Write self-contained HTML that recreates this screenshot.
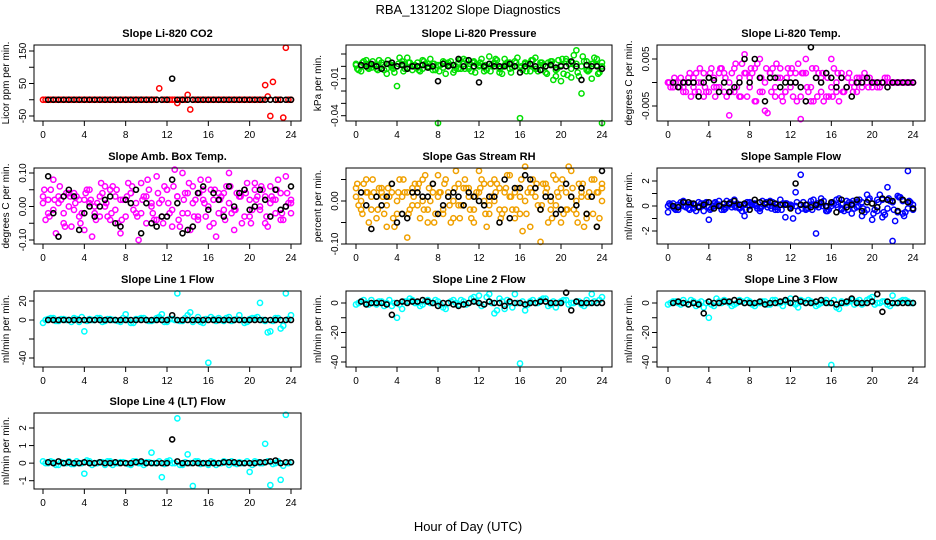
<!DOCTYPE html>
<html><head><meta charset="utf-8"><style>
body{margin:0;background:#fff;}
svg{display:block;font-family:"Liberation Sans",sans-serif;}
</style></head><body>
<svg id="c" width="936" height="540" viewBox="0 0 936 540">
<text x="468" y="14" text-anchor="middle" font-size="13">RBA_131202  Slope Diagnostics</text>
<text x="468" y="531" text-anchor="middle" font-size="13">Hour of Day (UTC)</text>
</svg>
<script>
const xTicks=[0,4,8,12,16,20,24];
// CO2
const co2A=[0,0,0,0,0,0,0,0, 0,0,0,0,0,0,0,0, 0,0,0,0,0,0,0,0, 0,0,0,0,0,0,0,0, 0,0,0,0,0,0,0,0, 0,0,0,0,0,35,0,0, 0,0,0,0,-10,0,0,0, 15,-30,0,0,0,0,0,0, 0,0,0,0,0,0,0,0, 0,0,0,0,0,0,0,0, 0,0,0,0,0,0,45,10, -50,55,0,0,0,-55,160,0, 0];
const co2K=[0,0,0,0,0,0,0,0,0,0,0,0,0,0,0,0,0,0,0,0,0,0,0,0,65,0,0,0,0,0,0,0,0,0,0,0,0,0,0,0,0,0,0,0,0,0,0,0];
// Pressure
const presA=[0.002,-0.004,0.005,0.001,-0.002,0.003,-0.006,0.000,-0.016,0.004,0.007,-0.003,-0.001,0.005,0.002,-0.003,-0.046,0.004,0.001,-0.005,0.003,0.006,-0.002,0.004,0.000,-0.004,0.008,0.002,-0.005,0.006,-0.002,0.004,-0.042,0.003,-0.004,0.007,0.001,-0.005,0.004,-0.008,-0.012,0.006,-0.009,0.013,-0.022,0.004,-0.010,0.006,-0.046];
const presB=[-0.003,0.004,-0.002,0.001,0.005,-0.003,0.002,-0.005,0.007,-0.002,0.003,0.001,-0.004,0.002,0.006,-0.003,0.001,-0.006,0.004,0.000,-0.002,0.005,-0.004,0.002,0.006,-0.003,0.001,0.005,-0.006,0.003,-0.001,0.007,-0.003,0.002,0.005,-0.004,0.001,0.003,-0.011,0.005,-0.006,0.002,0.009,-0.008,0.004,-0.003,0.007,-0.005];
const presC=[0.001,0.000,0.002,-0.001,0.001,0.003,-0.002,0.001,0.000,0.002,-0.001,0.001,0.003,-0.002,0.000,0.002,0.001,-0.001,0.003,0.001,-0.002,0.002,0.000,0.003,0.001,-0.001,0.002,0.003,-0.002,0.001,0.003,0.000,-0.001,0.002,0.001,-0.002,0.003,0.000,0.002,-0.003,0.001,0.004,-0.002,0.002,0.000,-0.003,0.002,0.001,0.000];
const presD=[-0.002,0.003,-0.001,0.004,-0.003,0.001,0.005,-0.002,0.002,-0.004,0.003,0.000,-0.003,0.004,-0.001,0.002,-0.004,0.003,0.001,-0.003,0.005,-0.002,0.002,-0.005,0.003,0.001,-0.004,0.006,-0.001,0.002,-0.005,0.003,0.000,-0.004,0.005,-0.002,0.003,-0.006,0.004,-0.002,0.006,-0.007,0.003,-0.005,0.008,-0.004,0.002,-0.006,0.003];
const presK=[0.001,0.000,0.002,0.000,-0.002,0.002,0.003,0.000,0.001,-0.002,0.000,0.000,0.001,-0.001,0.000,-0.012,0.002,0.000,0.001,0.006,0.000,0.005,0.000,-0.013,0.000,0.002,0.000,0.000,0.000,0.002,0.000,-0.005,0.000,0.002,0.000,-0.003,0.000,0.001,-0.001,0.000,0.000,0.004,0.000,-0.011,0.001,0.000,0.000,-0.002];
// Li-820 Temp
const tempA=[0,-0.001,0,-0.002,0,0.001,-0.002,-0.003,0.001,-0.001,0.002,-0.002,-0.007,0.003,-0.003,0.006,0.001,-0.004,0.005,-0.006,0.002,-0.003,0.003,-0.002,-0.001,0.002,-0.0078,0.005,-0.004,0.003,0.001,-0.003,0.005,-0.002,0.002,-0.001,0,-0.002,0.001,0,-0.001,0,0,0.001,0,0,0,0,0];
const tempB=[-0.001,0,0.001,-0.002,-0.003,0.002,0,-0.002,0.003,-0.001,0.003,-0.003,0.002,-0.001,0.004,-0.003,0.002,0.004,-0.002,-0.0065,0.003,0.001,-0.004,0.003,-0.003,0.004,0.002,-0.002,-0.004,0.002,-0.004,-0.003,0.003,-0.004,-0.002,0.002,-0.001,0.001,0.002,0.001,0,-0.001,0.001,0,0,0,0,0];
const tempC=[0,-0.001,0,-0.001,0.001,-0.001,0,0.002,-0.002,0.001,-0.001,0.002,0,-0.002,0.001,0.002,-0.001,0.003,-0.002,0,0.002,-0.001,0.001,-0.002,0.002,0,-0.003,0.002,-0.001,0.001,-0.002,0.002,-0.001,0,0.001,-0.001,0,0.001,-0.001,0,0,-0.001,0,0,0,0,0,0,0];
const tempD=[0,0.001,-0.001,0,0.002,-0.002,0.003,-0.001,0.002,-0.003,0.003,0.001,-0.002,0.004,-0.003,0.002,0.003,-0.004,0.001,0.003,-0.002,0.004,-0.003,0.001,0.003,-0.004,0.002,-0.001,0.003,-0.003,0.002,0.001,-0.003,0.002,-0.002,0.001,-0.002,0,0.001,-0.001,0,0,0,0,0,0,0,0,0];
const tempK=[0,-0.001,0,0,0,-0.003,0,0.001,0.0005,-0.002,0,-0.002,-0.001,0,0.005,0,0.005,0.001,-0.004,0.001,0.001,-0.001,0,0,0,-0.001,-0.004,0.0075,0.001,0,0.002,0.001,-0.001,0.001,-0.001,-0.003,0,0,0.001,0,0,0,-0.001,0,0,0,0,0];
// Amb box temp
const ambA=[0.03,-0.02,0.08,0.01,-0.05,0.04,-0.01,0.02,-0.07,0.05,0.00,-0.03,0.06,-0.04,0.03,-0.08,0.02,0.04,-0.02,0.07,-0.05,0.01,0.09,-0.03,0.05,-0.06,0.03,0.10,-0.02,0.06,-0.04,0.02,0.08,-0.05,0.04,-0.01,0.10,-0.07,0.03,0.05,-0.03,0.07,0.00,-0.05,0.06,0.02,-0.04,0.09,-0.02];
const ambB=[-0.04,0.05,-0.08,0.02,0.04,-0.06,0.03,-0.02,0.05,-0.09,0.01,0.04,-0.03,0.06,-0.05,0.02,0.07,-0.01,-0.10,0.03,0.05,-0.04,0.01,0.06,-0.02,0.11,-0.06,0.04,-0.07,0.02,0.08,-0.03,0.05,-0.09,0.03,0.06,-0.02,0.04,-0.05,0.07,-0.01,0.03,0.05,-0.06,0.02,0.08,-0.04,0.01];
const ambC=[0.01,0.02,-0.01,0.03,-0.02,0.00,0.04,-0.03,0.02,0.01,-0.02,0.03,0.00,0.05,-0.01,0.02,-0.03,0.04,0.01,-0.02,0.03,0.00,-0.04,0.02,0.05,-0.01,0.03,-0.02,0.04,0.01,-0.03,0.05,0.00,0.02,-0.02,0.04,0.01,-0.01,0.03,-0.03,0.02,0.05,-0.01,0.03,0.01,-0.02,0.04,0.00,0.02];
const ambD=[0.05,-0.03,0.02,0.06,-0.06,0.03,0.01,-0.05,0.04,0.02,-0.04,0.07,0.01,-0.02,0.05,-0.04,0.03,0.06,-0.03,0.02,0.08,-0.02,0.04,-0.05,0.01,0.06,-0.04,0.02,0.07,-0.03,0.04,0.01,-0.06,0.05,0.02,-0.04,0.06,-0.01,0.03,0.04,-0.05,0.02,0.06,-0.03,0.03,0.05,-0.02,0.04,0.01];
const ambK=[0.09,-0.02,-0.09,0.03,0.05,0.03,-0.07,-0.02,0.00,-0.03,0.00,0.02,0.03,-0.05,-0.06,0.02,0.01,0.05,-0.08,0.01,-0.05,-0.06,-0.03,-0.03,0.08,0.01,-0.08,-0.07,-0.06,0.04,0.06,-0.01,0.04,0.02,-0.03,0.06,0.00,0.04,0.05,-0.01,0.00,0.05,0.02,-0.03,0.05,-0.01,0.00,0.06];
// RH
const rhA=[0.03,-0.02,0.05,0.01,-0.04,0.02,-0.06,0.04,0.00,-0.03,-0.085,0.03,-0.01,0.05,-0.05,0.02,0.06,-0.02,0.01,-0.04,0.04,-0.01,0.03,-0.05,0.07,0.00,-0.03,0.05,-0.02,0.02,0.06,-0.04,0.01,0.08,-0.06,0.03,-0.095,0.04,-0.02,0.05,-0.05,0.02,0.07,-0.03,0.01,-0.04,0.05,-0.06,0.03];
const rhB=[-0.01,0.04,-0.05,0.02,0.03,-0.03,0.01,-0.06,0.05,0.02,-0.02,0.04,-0.04,0.06,0.00,-0.03,0.02,0.05,-0.05,0.07,-0.01,0.03,-0.04,0.02,0.05,-0.06,0.01,0.04,-0.03,0.06,-0.02,0.03,-0.07,0.02,0.05,-0.01,0.04,-0.05,0.06,0.01,-0.03,0.08,-0.02,0.04,-0.06,0.02,0.05,-0.04];
const rhC=[0.01,0.00,0.02,-0.02,0.01,0.03,-0.01,0.02,-0.03,0.01,0.02,-0.01,0.03,0.00,-0.02,0.04,0.01,-0.03,0.02,0.00,-0.01,0.03,0.01,-0.02,0.02,0.04,-0.01,0.00,0.03,-0.02,0.01,0.02,-0.03,0.00,0.03,0.01,-0.02,0.02,0.00,-0.01,0.03,-0.02,0.01,0.00,0.02,-0.03,0.01,0.02,0.00];
const rhD=[0.04,-0.03,0.02,0.05,-0.02,0.01,0.03,-0.04,0.02,0.05,-0.03,0.01,0.04,-0.02,0.03,-0.05,0.02,0.04,-0.01,0.03,-0.04,0.05,-0.02,0.01,0.03,-0.03,0.04,0.02,-0.04,0.03,0.01,-0.02,0.05,-0.03,0.02,0.04,-0.01,0.03,-0.04,0.02,0.05,-0.02,0.03,-0.05,0.04,0.01,-0.03,0.02,0.04];
const rhK=[0.02,-0.01,-0.065,0.01,-0.01,0.01,0.04,-0.05,-0.03,-0.04,0.02,0.02,0.01,0.01,0.04,-0.03,-0.01,0.01,0.02,0.01,-0.01,0.02,0.01,0.00,-0.01,0.01,0.01,-0.05,0.05,-0.04,0.03,0.03,0.06,0.05,0.03,-0.02,0.01,0.01,-0.03,-0.02,0.04,0.01,-0.01,0.03,-0.03,0.01,-0.06,0.07];
// Sample flow
const sfA=[-0.5,0.2,-0.3,0.4,0.1,-0.2,0.3,-0.4,-1.1,0.2,0.4,-0.3,0.1,0.5,-0.2,-0.8,0.3,0.1,-0.4,0.2,0.4,-0.3,0.5,-0.9,0.1,1.1,2.5,-0.3,0.4,-2.2,0.6,-0.4,0.2,0.5,-0.3,0.4,-0.6,0.3,-0.8,0.9,-1.1,0.5,-0.9,1.5,-2.8,0.8,-0.6,2.8,-0.3];
const sfB=[0.1,-0.3,0.3,-0.1,0.2,-0.4,0.2,0.3,-0.2,0.1,-0.3,0.4,-0.1,0.2,-0.4,0.3,0.1,-0.2,0.4,-0.1,0.3,-0.3,0.2,0.1,-1.0,-0.4,0.3,-0.2,0.5,-0.1,0.4,-0.3,0.2,0.6,-0.4,0.3,-0.2,0.5,-0.5,0.6,-0.3,0.9,-0.7,0.4,-1.2,0.7,-0.5,0.3];
const sfC=[0,-0.1,0.1,0,-0.2,0.1,0,0.2,-0.1,0,0.1,-0.1,0.2,0,-0.1,0.1,0,0.2,-0.2,0.1,0,-0.1,0.1,0.2,-0.1,0,0.1,-0.2,0.1,0,0.2,-0.1,0,0.1,-0.2,0.1,0.2,-0.1,0.3,-0.3,0.2,-0.4,0.5,-0.2,0.3,-0.5,0.4,-0.2,0.1];
const sfD=[0.2,-0.2,0,0.3,-0.3,0.1,-0.1,0.2,-0.3,0.3,0,-0.2,0.3,-0.1,0.1,-0.3,0.2,0,-0.1,0.3,-0.2,0.1,-0.3,0.2,0,0.3,-0.2,0.1,-0.3,0.2,0,-0.4,0.3,-0.1,0.2,-0.3,0.4,0,-0.2,0.5,-0.6,0.3,-0.5,0.6,-0.3,0.7,-0.8,0.4,-0.2];
const sfK=[0.0,-0.1,0.3,0.3,0.2,-0.1,0.1,0.3,-0.2,0.0,0.2,0.2,0.4,0.1,0.2,-0.3,0.5,0.3,0.2,0.3,0.2,0.1,0.1,-0.2,1.8,0.1,0.1,-0.1,0.1,0.3,0.0,0.3,-0.5,0.5,-0.1,0.1,0.5,-0.4,0.3,0.2,-0.1,0.6,0.5,0.4,-0.4,0.5,0.3,-0.2];
// Line 1
const l1A=[-3,1,2,-1,1,0,2,-2,-12,1,0,2,-1,1,0,-2,6,-3,1,2,0,-1,2,6,-2,1,28,-1,5,-2,3,-3,-45,1,2,-1,3,0,5,-3,1,2,18,-1,-12,2,-9,28,5];
const l1B=[0,2,-1,1,0,-2,1,3,-1,0,2,-2,1,0,-1,2,0,-3,1,2,-1,0,3,-2,1,0,-1,2,8,0,-2,1,3,-1,0,2,-1,1,0,-2,2,3,0,-13,-1,2,-6,1];
const l1K=[0,0,0,0,0,0,0,0,0,0,0,0,0,0,0,0,0,0,0,0,0,0,0,0,5,0,0,0,0,0,0,0,0,0,0,0,0,0,0,0,0,0,0,0,0,0,0,0];
// Line 2
const l2A=[-1,1,0,2,-1,1,0,-2,-10,-4,1,2,0,-1,2,0,1,-3,0,2,-1,1,0,4,5,-1,6,-7,3,-4,0,6,-41,-5,1,0,2,3,-1,-3,1,2,0,1,-1,2,6,0,4];
const l2B=[0,2,-1,0,1,-2,2,0,-1,1,3,0,-2,1,0,2,-1,-4,1,0,2,-1,3,1,-2,4,0,-5,1,2,-3,0,1,-1,2,0,3,-2,1,0,2,-1,0,1,-2,0,1,2];
const l2K=[1,-1,0,0,0,-1,-8,0,1,0,1,1,2,1,0,-2,0,0,-1,-2,-1,0,1,0,-1,1,0,0,-2,1,0,0,-1,0,0,1,1,0,0,0,7,-5,1,0,0,0,0,0];
// Line 3
const l3A=[-1,1,0,2,-1,1,0,-3,-10,-2,1,2,0,-1,2,0,1,-2,0,1,-1,2,0,1,3,-1,2,0,1,-2,0,2,-42,-3,1,0,2,1,-1,2,4,0,1,-1,5,0,2,1,0];
const l3B=[0,1,-1,0,2,-2,1,0,-1,3,0,1,-2,0,1,2,-1,0,1,-1,2,0,-2,1,0,-3,1,2,0,-1,1,0,2,-4,0,1,-1,2,0,3,-1,0,1,-2,0,1,2,0];
const l3K=[0,1,0,-1,0,-1,-7,1,0,0,1,1,2,1,0,0,0,1,-1,0,0,1,2,0,3,1,0,0,1,2,0,0,-1,0,1,3,0,0,0,1,6,-6,1,0,0,0,0,0];
// Line 4
const l4A=[0.1,0,0.05,-0.1,0,0.1,-0.05,0,-0.6,0.1,0,0.05,-0.1,0.1,0,0.05,0,-0.1,0.1,0,0.05,0.6,0,-0.8,0.1,0,2.55,-0.1,0.5,-1.3,0.1,0,-0.1,0.05,0,0.1,-0.1,0,0.05,0,-0.5,0.1,0,1.1,-1.25,0,-0.95,2.75,0.05];
const l4B=[0,0.1,-0.1,0.05,0,-0.05,0.1,0,0.15,-0.1,0,0.05,0.1,-0.1,0,0.05,-0.05,0.1,0,-0.1,0.05,0,0.1,-0.05,0.15,0,-0.1,0.05,0,0.1,-0.05,0,0.1,-0.1,0,0.05,0.1,-0.05,0,0.1,-0.1,0.05,0,0.1,-0.05,0.1,-0.15,0];
const l4K=[0.05,0,0.1,0,0.05,0,0,0.05,0,0,0.05,0,0,0.05,0,0,0,0.05,0.1,0,0,0,0,0,1.35,0.1,0,0,0,0,0,0,0,0,0.05,0.05,0.05,0,0,0,0,0.05,0.05,0.1,0.15,0,0.05,0.05];

const colL=[34,346,657],colR=[301,612,925],colX0=[43,356,668],colX24=[291,602,913];
const rowT=[45,168,291,413],rowB=[121,244,367,489];
const panels=[
 {id:'co2',r:0,c:0,title:'Slope Li-820 CO2',yt:'Licor ppm per min.',ref:[150,6,-50,71],ticks:[-50,0,50,100,150],labels:[[150,'150'],[50,'50'],[-50,'-50']],col:'#ff0000',series:[co2A],k:co2K},
 {id:'pressure',r:0,c:1,title:'Slope Li-820 Pressure',yt:'kPa per min.',ref:[0.01,9,-0.04,70.7],ticks:[0.01,0,-0.01,-0.02,-0.03,-0.04],labels:[[-0.01,'-0.01'],[-0.04,'-0.04']],col:'#00e000',series:[presA,presB,presC,presD],k:presK},
 {id:'li820-temp',r:0,c:2,title:'Slope Li-820 Temp.',yt:'degrees C  per min.',ref:[0.005,14,-0.005,61],ticks:[0.005,0,-0.005],labels:[[0.005,'0.005'],[-0.005,'-0.005']],col:'#ff00ff',series:[tempA,tempB,tempC,tempD],k:tempK},
 {id:'amb-box-temp',r:1,c:0,title:'Slope Amb. Box Temp.',yt:'degrees C per min.',ref:[0.1,5,-0.1,72],ticks:[0.1,0.05,0,-0.05,-0.1],labels:[[0.1,'0.10'],[0,'0.00'],[-0.1,'-0.10']],col:'#ff00ff',series:[ambA,ambB,ambC,ambD],k:ambK},
 {id:'gas-stream-rh',r:1,c:1,title:'Slope Gas Stream RH',yt:'percent per min.',ref:[0,33,-0.1,76],ticks:[0.05,0,-0.05,-0.1],labels:[[0,'0.00'],[-0.1,'-0.10']],col:'#f0a000',series:[rhA,rhB,rhC,rhD],k:rhK},
 {id:'sample-flow',r:1,c:2,title:'Slope Sample Flow',yt:'ml/min per min.',ref:[2,13,-2,63],ticks:[2,1,0,-1,-2],labels:[[2,'2'],[0,'0'],[-2,'-2']],col:'#0000ff',series:[sfA,sfB,sfC,sfD],k:sfK},
 {id:'line1-flow',r:2,c:0,title:'Slope Line 1 Flow',yt:'ml/min per min.',ref:[20,10,-40,67],ticks:[20,0,-20,-40],labels:[[20,'20'],[0,'0'],[-40,'-40']],col:'#00ffff',series:[l1A,l1B],k:l1K},
 {id:'line2-flow',r:2,c:1,title:'Slope Line 2 Flow',yt:'ml/min per min.',ref:[0,12,-40,71],ticks:[0,-10,-20,-30,-40],labels:[[0,'0'],[-20,'-20'],[-40,'-40']],col:'#00ffff',series:[l2A,l2B],k:l2K},
 {id:'line3-flow',r:2,c:2,title:'Slope Line 3 Flow',yt:'ml/min per min.',ref:[0,12,-40,71],ticks:[0,-10,-20,-30,-40],labels:[[0,'0'],[-20,'-20'],[-40,'-40']],col:'#00ffff',series:[l3A,l3B],k:l3K},
 {id:'line4-flow',r:3,c:0,title:'Slope Line 4 (LT) Flow',yt:'ml/min per min.',ref:[2,15,-1,67.7],ticks:[2,1,0,-1],labels:[[2,'2'],[1,'1'],[0,'0'],[-1,'-1']],col:'#00ffff',series:[l4A,l4B],k:l4K}
];
const NS='http://www.w3.org/2000/svg';
const svg=document.getElementById('c');
function mk(tag,attrs,parent){const e=document.createElementNS(NS,tag);for(const a in attrs)e.setAttribute(a,attrs[a]);parent.appendChild(e);return e;}
panels.forEach(p=>{
 const L=colL[p.c],R=colR[p.c],T=rowT[p.r],B=rowB[p.r];
 const x0=colX0[p.c],x24=colX24[p.c];
 const xs=h=>x0+(x24-x0)*h/24;
 const [v1,o1,v2,o2]=p.ref;
 const ys=v=>T+o1+(v-v1)*(o2-o1)/(v2-v1);
 const g=mk('g',{},svg);
 
 
 const t=mk('text',{x:(L+R)/2,y:T-8,'text-anchor':'middle','font-size':'11','font-weight':'bold'},g);
 t.textContent=p.title;
 
 
 const yt=mk('text',{transform:`translate(${L-25},${(T+B)/2}) rotate(-90)`,'text-anchor':'middle','font-size':'10'},g);
 yt.textContent=p.yt;
 
 
 p.series.forEach((arr,si)=>{
  const n=arr.length;
  const off=(n%2===0)?0.25:(si>=3?0.125:0);
  const step=(n%2===0)?0.5:24/(n-1);
  arr.forEach((v,i)=>{
   const h=Math.min(24,off+i*step);
   const c=mk('circle',{cx:xs(h),cy:ys(v),r:2.6,fill:'none',stroke:p.col,'stroke-width':1.5},g);
   
   
  });
 });
 p.k.forEach((v,i)=>{
  const h=0.5+i*0.5;
  const c=mk('circle',{cx:xs(h),cy:ys(v),r:2.5,fill:'none',stroke:'#000','stroke-width':1.6},g);
  
  
 });
 const box=mk('rect',{x:L,y:T,width:R-L,height:B-T,fill:'none',stroke:'#000','stroke-width':1},g);
 
 
 xTicks.forEach(h=>{
  mk('line',{x1:xs(h),x2:xs(h),y1:B,y2:B+5,stroke:'#000'},g);
  const tl=mk('text',{x:xs(h),y:B+17,'text-anchor':'middle','font-size':'10'},g);
  tl.textContent=h;
  
  
 });
 p.ticks.forEach(v=>{mk('line',{x1:L-5,x2:L,y1:ys(v),y2:ys(v),stroke:'#000'},g);});
 p.labels.forEach(([v,s])=>{
  const tl=mk('text',{transform:`translate(${L-8},${ys(v)}) rotate(-90)`,'text-anchor':'middle','font-size':'10'},g);
  tl.textContent=s;
  
  
 });
});
</script>
</body></html>
